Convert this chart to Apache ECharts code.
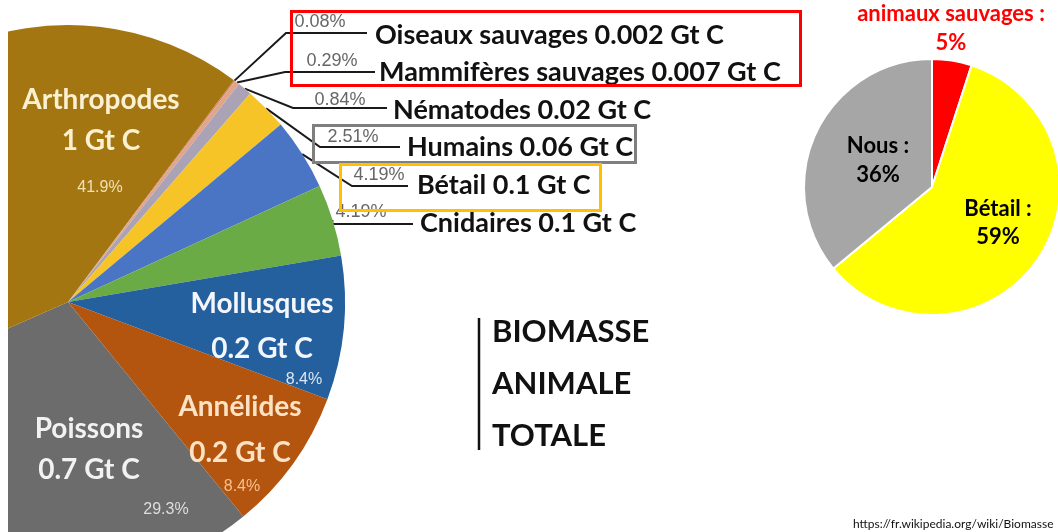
<!DOCTYPE html>
<html>
<head>
<meta charset="utf-8">
<title>Biomasse animale totale</title>
<script src="https://cdn.jsdelivr.net/npm/echarts@6/dist/echarts.min.js"></script>
<style>
html, body { margin:0; padding:0; background:#fff; }
#main { width:1058px; height:532px; }
</style>
</head>
<body>
<div id="main"></div>
<script>
// biomasse animale totale, part de chaque groupe (%)
var groupNames = ['Oiseaux sauvages', 'Mammifères sauvages', 'Nématodes', 'Humains', 'Bétail', 'Cnidaires', 'Mollusques', 'Annélides', 'Poissons', 'Arthropodes'];
var groupShare = [0.08, 0.29, 0.84, 2.51, 4.19, 4.19, 8.4, 8.4, 29.3, 41.9];
var groupShareText = ['0.08%', '0.29%', '0.84%', '2.51%', '4.19%', '4.19%', '8.4%', '8.4%', '29.3%', '41.9%'];
var groupGtC = ['0.002', '0.007', '0.02', '0.06', '0.1', '0.1', '0.2', '0.2', '0.7', '1'];

// mammiferes : sauvages / betail / humains (%)
var mammalNames = ['animaux sauvages', 'Bétail', 'Nous'];
var mammalShare = [5, 59, 36];

// styles
var groupColors = ['#c98468', '#e3a48c', '#aaa3b6', '#f7c428', '#4a74c4', '#6aab46', '#245f9e', '#b3540f', '#6c6c6c', '#a47611'];
var nameColors = ['#111', '#111', '#111', '#111', '#111', '#111', '#f3f6fb', '#fde3c4', '#f2f2f2', '#fbf0d2'];
var pctColors = ['#666', '#666', '#666', '#666', '#666', '#666', '#dce6f4', '#f7c08f', '#dddddd', '#f0e0b4'];
var mammalColors = ['#ff0000', '#ffff00', '#a6a6a6'];
var mammalTextColors = ['#ff0000', '#000', '#000'];

// label positions [x, y, align, lineHeight]
var namePos = [[375, 35, 'left'], [379, 72, 'left'], [393, 110, 'left'], [407, 147, 'left'], [417, 185, 'left'], [420, 223, 'left'],
               [262, 326, 'center', 45], [240, 430, 'center', 46], [89, 449, 'center', 41], [101, 120, 'center', 41]];
var pctPos = [[320, 22], [332, 61], [340, 100], [353, 137], [379, 175], [361, 212], [304, 380], [242, 487], [166, 510], [100, 188]];
// leader line elbow and end
var leaderPts = [[[286, 33], [367, 33]], [[285, 72], [375, 72]], [[293, 108], [387, 108]], [[320, 147], [400, 147]], [[352, 186], [408, 186]], [[332, 224], [413, 224]]];
var mammalLabelPos = [[951, 28, 29], [998, 223, 28], [878, 160, 29]];

var boldFont = 'Lato, "Open Sans", sans-serif';
var pieCenter = [68, 302];
var pieRadius = 277;

var chart = echarts.init(document.getElementById('main'));

var nameData = groupNames.map(function (n, i) {
    var inside = i >= 6;
    return {
        name: n,
        value: groupShare[i],
        itemStyle: { color: groupColors[i] },
        label: {
            color: nameColors[i],
            fontSize: inside ? 28 : 27,
            lineHeight: inside ? namePos[i][3] : 34
        },
        labelLine: { show: !inside }
    };
});

var pctData = groupNames.map(function (n, i) {
    return {
        name: n,
        value: groupShare[i],
        label: { color: pctColors[i], fontSize: i >= 6 ? 16 : 18 }
    };
});

var mammalData = mammalNames.map(function (n, i) {
    return {
        name: n,
        value: mammalShare[i],
        itemStyle: { color: mammalColors[i] },
        label: { color: mammalTextColors[i], lineHeight: mammalLabelPos[i][2] }
    };
});

option = {
    backgroundColor: '#fff',
    animation: false,
    title: {
        text: 'BIOMASSE\nANIMALE\nTOTALE',
        left: 492,
        top: 306,
        padding: 0,
        textStyle: { fontFamily: boldFont, fontWeight: 'bold', fontSize: 31, lineHeight: 52, color: '#111' }
    },
    series: [
        {
            // parts + noms
            type: 'pie',
            center: pieCenter,
            radius: pieRadius,
            startAngle: 53.2,
            clockwise: true,
            avoidLabelOverlap: false,
            emphasis: { disabled: true },
            silent: true,
            data: nameData,
            label: {
                show: true,
                position: 'outside',
                fontFamily: boldFont,
                fontWeight: 'bold',
                formatter: function (p) {
                    var i = p.dataIndex;
                    return p.name + (i >= 6 ? '\n' : ' ') + groupGtC[i] + ' Gt C';
                }
            },
            labelLine: { show: true, lineStyle: { color: '#1a1a1a', width: 2 } },
            labelLayout: function (p) {
                var i = p.dataIndex;
                var pos = namePos[i];
                var out = { x: pos[0], y: pos[1], align: pos[2], verticalAlign: 'middle' };
                if (leaderPts[i] && p.labelLinePoints) {
                    out.labelLinePoints = [p.labelLinePoints[0], leaderPts[i][0], leaderPts[i][1]];
                }
                return out;
            }
        },
        {
            // pourcentages
            type: 'pie',
            center: pieCenter,
            radius: pieRadius,
            startAngle: 53.2,
            clockwise: true,
            avoidLabelOverlap: false,
            silent: true,
            emphasis: { disabled: true },
            itemStyle: { color: 'rgba(0,0,0,0)' },
            data: pctData,
            label: {
                show: true,
                position: 'outside',
                fontFamily: '"Liberation Sans", sans-serif',
                formatter: function (p) { return groupShareText[p.dataIndex]; }
            },
            labelLine: { show: false },
            labelLayout: function (p) {
                var pos = pctPos[p.dataIndex];
                return { x: pos[0], y: pos[1], align: 'center', verticalAlign: 'middle' };
            }
        },
        {
            type: 'pie',
            center: [932, 187],
            radius: 128,
            startAngle: 90,
            clockwise: true,
            avoidLabelOverlap: false,
            silent: true,
            emphasis: { disabled: true },
            itemStyle: { borderColor: '#fff', borderWidth: 2 },
            data: mammalData,
            label: {
                show: true,
                position: 'outside',
                fontFamily: boldFont,
                fontWeight: 'bold',
                fontSize: 22,
                formatter: function (p) { return p.name + ' :\n' + p.value + '%'; }
            },
            labelLine: { show: false },
            labelLayout: function (p) {
                var pos = mammalLabelPos[p.dataIndex];
                return { x: pos[0], y: pos[1], align: 'center', verticalAlign: 'middle' };
            }
        }
    ],
    graphic: [
        { type: 'rect', left: 0, top: 0, z: 100, shape: { width: 8, height: 532 }, style: { fill: '#fff' } },
        { type: 'rect', z: 100, shape: { x: 291.5, y: 11.5, width: 509, height: 74 }, style: { fill: 'none', stroke: '#ff0000', lineWidth: 3 } },
        { type: 'rect', z: 100, shape: { x: 313.5, y: 125.5, width: 322, height: 37 }, style: { fill: 'none', stroke: '#7f7f7f', lineWidth: 3 } },
        { type: 'rect', z: 100, shape: { x: 340.5, y: 164.5, width: 260, height: 46 }, style: { fill: 'none', stroke: '#ffc000', lineWidth: 3 } },
        { type: 'line', z: 100, shape: { x1: 479, y1: 318, x2: 479, y2: 450 }, style: { stroke: '#111', lineWidth: 2.5 } },
        { type: 'text', z: 100, x: 853, y: 524, style: { text: 'https://fr.wikipedia.org/wiki/Biomasse', fontFamily: 'Lato, sans-serif', fontSize: 12, fill: '#111', verticalAlign: 'middle' } }
    ]
};
chart.setOption(option);
</script>
</body>
</html>
